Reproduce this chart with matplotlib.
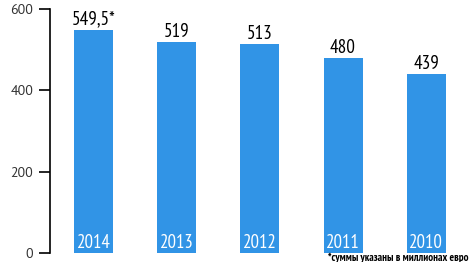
import matplotlib
matplotlib.use("Agg")
import matplotlib.pyplot as plt
from matplotlib import font_manager

years = ["2014", "2013", "2012", "2011", "2010"]
values = [549.5, 519, 513, 480, 439]
value_labels = ["549,5*", "519", "513", "480", "439"]
yticks = [0, 200, 400, 600]
footnote = "*суммы указаны в миллионах евро"

names = {f.name for f in font_manager.fontManager.ttflist}
def pick(cands, default="DejaVu Sans"):
    for c in cands:
        if c in names:
            return c
    return default

cond = pick(["PT Sans Narrow", "Roboto Condensed", "Fira Sans Condensed",
             "Open Sans Condensed", "Liberation Sans Narrow", "Ubuntu Condensed"])
tickfont = pick(["PT Sans", "Open Sans", "Noto Sans"])

W, H = 472, 262
fig = plt.figure(figsize=(W/100, H/100), dpi=100)
ax = fig.add_axes([50/W, (H-253)/H, (W-50)/W, 244/H])
color = "#3194E6"
x = list(range(len(years)))
ax.bar(x, values, width=0.469, color=color)
ax.set_xlim(-0.523, 4.55)
ax.set_ylim(0, 600)
for s in ["top", "right", "bottom"]:
    ax.spines[s].set_visible(False)
ax.spines["left"].set_linewidth(1.2)
ax.set_xticks([])
ax.set_yticks(yticks)
ax.tick_params(axis="y", length=8, width=1.2, pad=4, labelsize=10, labelcolor="#333333")
for lab in ax.get_yticklabels():
    lab.set_family(tickfont)
for xi, v, lab, yr in zip(x, values, value_labels, years):
    ax.text(xi, v + 3, lab, ha="center", va="bottom", fontsize=13.8, family=cond, color="black")
    ax.text(xi, 3, yr, ha="center", va="bottom", fontsize=13.5, family=cond, color="white")
fig.text(468/W, 1 - 258/H, footnote, ha="right", va="center", fontsize=7.8, family=cond,
         fontweight="bold", color="black")
fig.savefig("out.png", dpi=100)
